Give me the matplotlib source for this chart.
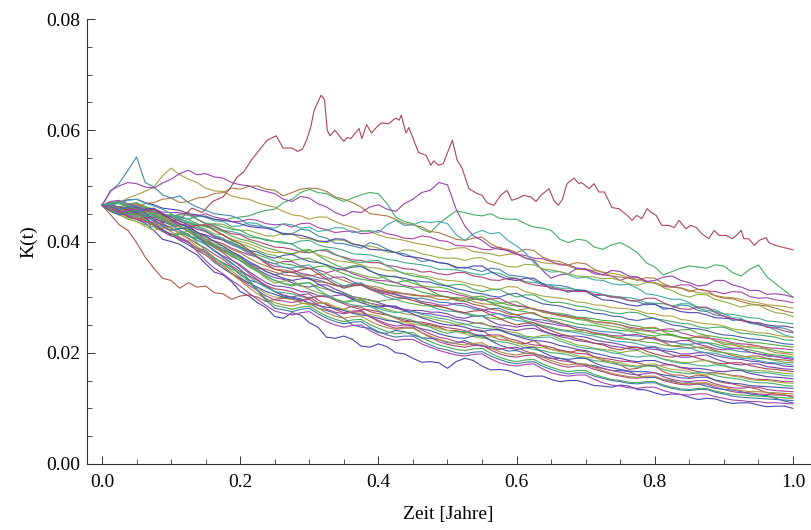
#!/usr/bin/env python3
"""
Simulated short-rate paths K(t) over one year (Mathematica-style line plot)
"""

import colorsys

import matplotlib
matplotlib.use("Agg")
import matplotlib.pyplot as plt
import numpy as np
from matplotlib.ticker import FormatStrFormatter, MultipleLocator

# Paths sampled on an even grid from t=0 to t=1 (years); K(t) in units of 1e-4
UNIT = 1e-4

# outlier paths
k_blue_low = "465 463 455 444 440 433 420 404 400 395 385 376 360 345 340 328 310 302 290 281 265 262 272 268 254 246 228 226 230 224 212 210 216 211 200 198 190 183 184 182 172 184 190 186 176 169 170 168 162 157 158 158 152 148 150 150 146 141 140 138 142 140 134 133 128 124 126 125 120 116 118 117 112 109 110 110 106 103 104 104 100"
k_blue_low2 = "465 466 460 451 448 442 430 419 414 408 398 388 384 370 362 354 340 331 326 320 310 302 300 297 288 280 276 271 262 250 246 244 236 235 240 238 232 227 226 224 218 217 222 216 212 211 208 203 204 199 198 195 190 190 186 181 178 177 172 168 168 166 160 155 156 152 150 145 146 144 140 136 134 133 130 126 124 123 118 113 110"
k_teal_mid = "465 458 460 451 452 459 456 448 446 445 440 446 444 437 436 427 428 434 432 425 424 432 430 424 426 418 420 425 424 416 418 420 416 430 438 429 430 436 434 436 432 412 402 414 420 414 416 402 392 380 362 350 345 346 340 334 336 331 330 324 322 323 316 306 304 300 296 296 290 282 280 277 270 263 262 253 250 248 240 232 228"
k_teal_early = "465 490 505 528 552 506 498 484 478 482 470 462 456 450 448 446 440 430 428 426 420 412 414 422 420 410 406 397 396 392 388 398 394 386 380 378 372 364 366 362 360 352 354 350 346 352 350 340 338 336 330 322 322 321 318 312 310 302 304 300 298 294 292 286 288 278 280 286 284 276 274 268 266 258 260 254 252 246 246 244 238"
k_purple_high = "465 492 500 506 504 498 496 505 512 522 528 520 522 516 514 506 502 500 494 490 486 476 472 481 478 468 462 452 446 454 452 462 466 458 454 468 476 488 492 506 502 458 428 410 402 390 386 384 378 370 366 348 334 340 342 352 350 342 340 348 346 338 336 328 330 336 338 330 326 320 322 330 330 322 318 312 312 305 306 304 300"
k_green_high = "465 463 458 452 450 455 456 449 446 444 440 445 446 440 438 442 444 446 452 456 458 470 476 488 494 488 486 478 472 478 484 488 486 468 444 436 432 422 416 432 444 455 452 448 446 450 442 440 440 432 426 424 420 404 398 404 402 390 386 394 398 390 380 362 354 340 346 352 356 354 352 358 356 344 338 350 358 336 324 312 300"
k_orange_high = "465 464 458 457 462 468 470 476 478 470 472 478 480 486 488 496 494 499 500 494 492 482 488 494 496 495 490 480 476 470 462 450 448 446 440 432 430 426 418 416 410 404 402 406 408 396 388 386 380 386 384 372 366 364 358 362 360 350 344 338 336 334 330 335 334 324 318 316 310 314 312 302 298 297 292 288 286 284 280 275 272"
k_red_dip = "465 448 430 420 398 372 352 334 330 316 326 318 320 308 306 296 302 304 300 292 296 298 296 292 300 290 288 280 278 284 282 274 270 268 262 256 256 252 250 246 240 240 236 242 240 230 224 222 218 216 222 212 206 204 200 204 202 192 186 184 178 170 172 178 176 166 160 160 156 160 158 150 146 144 140 138 134 128 126 124 120"

# the top red path, read point by point
red_t = [0.0, 0.0125, 0.025, 0.04, 0.055, 0.07, 0.085, 0.1, 0.115, 0.13, 0.145, 0.16, 0.175, 0.185, 0.195,
         0.205, 0.216, 0.228, 0.239, 0.252, 0.258, 0.262, 0.275, 0.283, 0.29, 0.296, 0.302, 0.307, 0.317, 0.322,
         0.326, 0.33, 0.337, 0.35, 0.355, 0.36, 0.372, 0.376, 0.383, 0.39, 0.397, 0.404, 0.415, 0.425, 0.43,
         0.433, 0.44, 0.444, 0.45, 0.458, 0.469, 0.476, 0.48, 0.487, 0.494, 0.5, 0.507, 0.514, 0.521, 0.531,
         0.543, 0.55, 0.557, 0.567, 0.577, 0.586, 0.593, 0.603, 0.61, 0.621, 0.628, 0.635, 0.647, 0.654, 0.66,
         0.666, 0.673, 0.683, 0.69, 0.694, 0.705, 0.712, 0.719, 0.727, 0.738, 0.748, 0.76, 0.767, 0.774, 0.781,
         0.789, 0.795, 0.802, 0.81, 0.82, 0.828, 0.835, 0.845, 0.852, 0.86, 0.868, 0.878, 0.886, 0.893, 0.903,
         0.912, 0.918, 0.925, 0.929, 0.936, 0.944, 0.951, 0.961, 0.965, 0.975, 0.984, 1.0]
red_k = [465, 455, 448, 460, 445, 430, 445, 435, 442, 460, 452, 472, 480, 495, 515,
         525, 546, 565, 582, 590, 577, 568, 568, 562, 566, 582, 605, 636, 663, 655,
         600, 590, 600, 580, 587, 585, 603, 585, 610, 595, 605, 613, 612, 622, 618,
         627, 595, 605, 586, 560, 555, 537, 545, 537, 540, 560, 582, 546, 532, 495,
         486, 483, 470, 465, 483, 492, 474, 478, 483, 480, 472, 483, 495, 474, 465,
         475, 504, 514, 504, 506, 495, 504, 489, 489, 461, 459, 447, 438, 447, 441,
         459, 452, 447, 429, 429, 425, 438, 423, 429, 425, 414, 405, 420, 411, 411,
         405, 411, 420, 405, 405, 393, 402, 407, 398, 393, 390, 385]

# bulk of the paths
k_b01 = "465 470 471 464 462 457 458 453 452 452 447 446 450 444 441 436 436 440 438 432 430 431 426 432 433 425 421 416 418 419 414 415 420 414 411 406 405 410 408 402 400 393 392 391 386 385 390 383 377 375 370 369 364 358 358 352 351 345 340 338 330 336 336 329 325 319 318 322 322 314 311 310 306 310 309 301 298 299 295 293 290"
k_b02 = "465 466 470 478 484 490 498 518 532 520 512 506 496 491 490 482 478 476 470 465 462 454 448 446 440 444 444 436 430 426 420 418 412 407 405 402 398 395 392 389 385 388 389 382 380 378 374 377 378 371 367 362 360 360 356 350 349 348 345 343 340 335 332 327 326 321 319 317 312 308 307 303 300 299 296 292 290 286 285 283 280"
k_b03 = "465 461 455 448 448 454 452 445 440 440 434 429 428 432 431 424 420 420 415 410 410 415 414 406 405 400 398 403 402 395 392 392 388 381 380 385 384 378 375 371 370 370 366 370 371 364 360 355 354 359 358 351 349 346 342 338 337 336 333 334 330 324 321 326 326 317 312 304 300 305 304 296 292 287 282 286 286 278 272 270 265"
k_b04 = "465 466 461 455 452 446 444 448 447 440 436 430 428 426 420 418 414 408 406 404 400 397 396 401 402 394 390 388 384 378 377 376 372 368 366 362 360 358 355 350 350 349 346 342 340 344 343 336 334 328 326 325 320 316 316 313 311 309 305 302 300 299 296 290 289 288 284 288 288 280 276 274 270 269 266 263 262 257 256 254 252"
k_b05 = "465 466 470 475 476 470 466 460 458 456 450 448 444 440 438 436 432 427 425 424 420 414 413 411 407 401 400 405 404 396 393 386 385 384 380 374 372 370 366 362 360 354 352 356 356 346 338 332 330 334 334 324 315 314 309 313 312 302 295 294 290 286 284 288 287 281 279 274 272 272 268 263 262 261 258 254 254 250 248 248 245"
k_b06 = "465 460 458 463 466 456 450 446 444 449 452 440 432 428 420 414 412 404 400 395 390 389 386 381 380 384 383 376 372 367 366 362 362 357 355 351 350 345 346 342 340 344 344 338 336 331 330 334 333 326 322 320 318 313 312 310 310 305 304 300 300 294 293 298 298 290 284 279 278 282 282 272 266 261 258 256 252 246 244 239 236"
k_b07 = "465 464 460 465 466 458 452 446 444 436 432 428 422 414 412 404 400 396 390 383 380 380 376 382 384 376 372 366 364 362 358 353 352 348 347 343 342 338 336 332 330 329 326 322 320 315 314 319 318 310 306 302 300 298 296 291 290 286 285 281 280 279 276 271 270 266 266 260 258 254 252 251 248 243 241 238 236 235 232 229 228"
k_b08 = "465 470 472 466 461 461 458 450 444 448 448 440 433 431 426 422 420 412 407 402 400 399 395 386 380 384 386 377 370 364 362 365 366 356 349 342 338 336 332 325 320 323 322 314 310 313 314 306 300 304 304 296 290 291 288 284 282 278 276 272 270 273 272 266 261 259 256 253 252 247 244 246 246 240 235 234 232 230 228 223 222"
k_b09 = "465 461 456 449 445 449 450 440 432 427 420 415 412 406 403 398 390 384 381 374 370 375 377 370 364 362 358 352 350 354 355 347 341 338 336 334 330 328 327 322 320 315 312 308 306 302 300 305 307 299 294 288 286 284 280 276 276 271 270 266 265 260 258 261 262 256 250 248 244 243 240 235 232 231 228 225 224 222 219 216 215"
k_b10 = "465 464 461 467 470 463 458 450 446 444 440 432 426 423 418 410 404 401 395 389 385 380 378 383 386 375 366 358 352 356 358 348 340 332 326 329 330 320 312 304 300 299 296 300 302 296 291 286 284 282 279 274 272 271 268 264 263 261 258 257 255 250 248 244 244 240 238 241 242 235 231 229 226 225 222 218 218 216 214 212 210"
k_b11 = "465 460 452 446 444 436 430 434 437 428 420 411 404 401 396 388 382 376 372 365 360 364 364 356 352 349 344 348 350 342 337 332 330 329 326 321 318 318 314 311 310 305 302 297 294 297 298 290 285 283 278 276 272 268 266 262 261 256 254 253 250 246 244 240 239 242 243 236 232 228 226 225 222 218 216 215 212 209 208 207 205"
k_b12 = "465 468 468 461 455 452 447 441 438 431 426 429 430 420 412 402 396 391 384 378 375 369 366 369 370 363 358 352 348 345 340 336 334 337 338 330 325 320 318 318 315 309 305 300 296 291 288 291 292 284 278 273 270 268 264 260 258 253 250 248 245 241 240 239 236 232 231 227 226 228 228 222 218 216 213 209 208 207 204 201 200"
k_b13 = "465 456 450 448 443 437 434 426 420 424 425 415 408 400 396 386 380 370 362 356 350 349 346 340 338 341 342 335 330 324 322 320 318 312 310 306 303 302 300 296 295 298 299 292 288 287 284 278 276 279 280 273 270 266 264 263 260 256 255 253 250 244 242 245 246 238 232 228 226 230 230 221 215 214 210 212 212 205 200 199 196"
k_b14 = "465 465 462 457 455 447 442 446 448 438 430 425 418 410 404 399 392 383 376 371 365 360 358 353 351 355 356 348 342 336 332 330 326 322 320 319 315 309 306 302 300 294 292 296 298 290 284 281 276 274 270 264 262 260 256 252 250 249 246 242 240 239 236 232 230 233 233 228 224 220 218 216 212 208 207 205 202 198 196 195 192"
k_b15 = "465 463 458 451 447 444 438 430 424 416 410 406 400 392 388 378 370 361 355 346 340 344 345 338 334 331 326 321 318 321 322 315 310 308 304 300 298 298 295 291 290 286 284 279 276 279 280 273 268 263 260 259 256 252 250 246 244 240 238 237 235 231 230 229 226 222 220 216 215 217 218 212 208 205 202 201 198 194 193 192 190"
k_b16 = "465 472 474 468 463 457 452 450 444 436 430 422 418 408 402 394 388 381 372 362 355 354 350 343 340 335 332 336 336 328 322 315 312 308 306 301 298 292 290 286 285 289 288 282 278 273 270 266 264 262 258 254 252 249 247 242 240 236 234 231 230 232 233 227 224 220 219 222 222 215 212 207 205 208 208 201 198 196 193 190 188"
k_b17 = "465 462 455 459 460 452 447 437 430 426 418 408 400 393 384 373 366 358 352 350 345 340 338 337 332 328 326 321 320 323 324 318 314 310 308 306 305 302 302 302 300 296 293 287 284 278 276 270 268 271 272 264 258 254 248 242 240 235 232 228 225 224 222 226 228 219 212 211 208 210 210 204 200 195 192 194 194 190 188 187 185"
k_b18 = "465 455 448 440 436 430 426 418 412 416 418 407 398 390 382 374 366 354 346 336 330 325 322 325 326 318 314 309 306 300 298 294 292 295 296 291 288 285 284 283 280 275 272 268 266 262 260 263 264 258 254 249 246 242 240 239 236 233 232 229 228 224 222 219 218 214 212 214 214 209 206 202 200 198 195 191 190 189 186 183 182"
k_b19 = "465 466 469 474 476 469 464 458 450 441 434 428 420 411 406 395 388 378 372 364 360 354 352 356 358 346 336 327 320 324 326 316 308 300 296 298 298 290 284 278 275 274 270 266 266 269 270 263 258 256 250 248 244 240 238 236 232 230 226 222 220 219 216 212 211 207 206 208 209 203 200 199 195 192 190 189 186 183 182 180 178"
k_b20 = "465 456 452 457 458 447 436 430 426 430 430 416 404 392 384 380 372 360 350 341 335 332 326 320 318 322 322 314 308 301 298 295 290 285 282 278 276 276 273 273 270 264 262 266 266 257 250 249 246 249 250 240 234 231 230 230 228 223 220 218 215 211 210 207 206 204 202 198 198 200 200 195 192 189 188 185 184 181 180 176 175"
k_b21 = "465 461 456 461 462 450 440 436 430 420 412 402 396 384 374 367 358 346 336 326 320 319 316 310 309 303 300 303 304 298 294 289 286 284 280 276 274 271 270 267 265 260 258 254 252 248 246 242 240 243 244 238 234 229 226 222 220 217 216 212 210 207 206 209 210 202 196 192 192 195 196 189 184 180 178 180 180 175 173 171 170"
k_b22 = "465 464 460 454 452 456 458 448 440 432 426 429 430 420 412 403 396 385 372 360 350 346 344 349 352 342 332 323 316 320 322 314 308 305 300 298 294 289 286 284 280 275 272 275 276 268 262 255 250 253 254 246 240 234 230 225 222 217 214 208 205 209 210 203 198 194 192 195 195 190 186 182 180 182 182 177 174 171 170 168 166"
k_b23 = "465 460 452 448 446 450 452 443 434 426 420 411 404 396 392 380 370 357 346 334 325 329 330 321 314 308 304 297 292 295 296 289 284 278 274 270 268 265 262 258 255 251 250 253 254 247 242 238 236 230 228 231 232 225 220 214 212 208 206 204 200 203 204 198 194 189 186 183 182 185 186 180 176 172 170 168 168 167 165 163 162"
k_b24 = "465 463 458 449 444 448 450 440 430 419 410 403 394 384 372 360 350 337 326 317 310 308 306 301 298 302 304 296 290 286 284 283 280 275 272 274 274 269 266 262 260 255 252 247 244 243 240 235 232 228 226 228 228 221 216 211 208 207 204 200 198 194 192 194 194 188 184 181 180 177 176 178 178 173 170 166 164 164 162 159 158"
k_b25 = "465 465 462 457 454 458 460 449 440 432 426 417 410 400 392 382 374 364 356 346 340 334 330 333 334 324 316 309 304 296 290 285 282 284 284 276 270 263 258 253 250 249 246 241 238 241 242 235 230 225 222 221 218 213 210 206 204 199 196 192 190 186 184 186 186 181 178 174 172 172 170 167 166 168 168 163 160 157 156 155 153"
k_b26 = "465 458 453 445 440 443 444 433 424 414 406 396 388 377 368 356 346 339 330 321 315 313 310 303 298 301 302 294 288 282 278 277 274 268 264 259 256 255 252 248 245 243 240 234 230 232 232 226 222 217 214 213 210 205 202 199 198 193 190 188 185 184 182 178 176 178 178 173 170 166 164 164 162 159 158 154 152 152 150 148 148"
k_b27 = "465 458 450 442 436 427 420 424 426 414 404 391 380 371 360 347 336 325 316 306 300 299 296 290 286 289 290 283 278 273 270 269 266 260 256 255 252 249 248 243 240 238 234 229 226 229 230 223 218 213 210 209 206 202 200 195 192 191 188 184 182 178 176 179 180 174 170 169 166 162 160 162 162 158 156 152 150 150 148 146 145"
k_b28 = "465 469 470 463 458 450 446 439 430 428 422 412 404 394 388 376 366 356 348 338 330 324 320 324 326 314 304 296 290 293 294 284 276 269 264 262 258 251 246 239 235 238 238 232 228 223 220 218 214 209 206 204 200 199 196 192 190 186 184 181 178 176 174 176 176 170 166 164 162 164 164 159 156 154 152 148 146 146 144 141 140"
k_b29 = "465 454 448 452 452 441 432 422 412 402 394 384 376 363 352 342 334 325 318 310 305 300 298 295 290 285 282 280 276 271 268 266 262 258 256 251 248 243 240 234 230 227 226 230 232 222 214 209 206 209 210 201 194 190 188 190 190 182 176 173 170 167 166 166 164 160 158 155 154 156 156 151 148 145 144 141 140 139 138 137 136"
k_b30 = "465 462 456 447 440 436 430 420 412 404 398 388 380 367 356 343 332 321 312 302 295 293 290 294 296 286 278 273 270 273 274 265 258 252 248 250 250 241 234 228 225 220 218 214 212 208 206 209 210 203 198 192 190 186 184 180 178 174 172 168 165 162 160 163 164 157 152 149 148 150 150 144 140 137 136 138 138 134 132 131 130"
k_b31 = "465 464 460 453 448 439 432 426 418 408 400 387 376 365 356 342 330 317 306 297 290 286 284 288 290 280 272 266 262 265 266 257 250 245 242 244 244 236 230 224 220 216 214 217 218 209 202 198 196 199 200 192 186 181 178 180 180 173 168 163 160 157 156 158 158 152 148 145 144 146 146 141 138 134 132 130 130 129 128 127 126"
k_b32 = "465 465 462 466 468 460 454 444 436 428 418 409 400 389 380 367 356 343 332 320 310 304 300 304 306 295 286 278 272 275 276 265 256 249 244 246 246 236 228 220 215 212 210 213 214 205 198 194 192 195 196 188 182 177 174 176 176 170 166 161 158 155 154 156 156 150 146 143 142 144 144 138 134 130 128 128 126 125 124 124 122"
k_b33 = "465 456 450 454 456 440 428 418 410 413 414 398 384 371 360 350 344 327 312 297 285 282 278 282 284 274 266 260 256 259 260 251 244 238 234 236 236 227 220 214 210 206 204 207 208 199 192 187 184 187 188 180 174 169 166 168 168 161 156 152 150 147 146 148 148 142 138 135 134 136 136 131 128 125 124 123 122 121 120 119 118"
k_b34 = "465 463 458 462 464 451 440 428 420 423 424 409 396 383 372 362 350 331 312 294 280 277 274 278 280 270 262 256 252 255 256 246 238 232 228 230 230 221 214 208 205 200 198 201 202 194 188 183 180 183 184 176 170 165 162 164 164 158 154 150 148 145 144 146 146 140 136 133 132 134 134 129 126 122 120 119 118 117 116 115 114"
k_b36 = "465 458 452 456 458 444 430 419 410 406 400 382 366 352 342 330 320 307 296 285 275 271 268 272 274 264 256 250 246 249 250 240 232 226 222 224 224 216 210 204 200 196 194 197 198 189 182 178 176 179 180 171 164 160 158 160 160 152 146 142 140 137 136 138 138 132 128 125 124 126 126 121 118 115 114 112 112 110 110 109 108"


def plot_colors(n: int):
    """Default Mathematica plot colour sequence (hues spaced by the golden ratio)"""
    golden = (1 + 5 ** 0.5) / 2
    cols = []
    for i in range(n):
        h = (0.67 + 2.0 * i / golden) % 1.0
        cols.append(colorsys.hsv_to_rgb(h, 0.6, 0.68))
    return cols


def as_path(values):
    """Turn a stored path into (t, K) arrays on an even grid over one year"""
    k = np.array(values.split(), dtype=float) * UNIT
    return np.linspace(0.0, 1.0, len(k)), k


def main():
    plt.rcParams['font.family'] = ['Liberation Serif', 'DejaVu Serif']

    # draw order decides the colour of each path
    order = [
        k_blue_low, k_b32, k_b02, k_green_high, k_blue_low2, k_b01, k_orange_high, k_b10,
        k_teal_early, k_purple_high, k_red_dip, k_b12, k_teal_mid, k_b20, None,
        k_b03, k_b04, k_b05, k_b06, k_b07, k_b08, k_b09, k_b11, k_b13, k_b14, k_b15,
        k_b16, k_b17, k_b18, k_b19, k_b21, k_b22, k_b23, k_b24, k_b25, k_b26, k_b27,
        k_b28, k_b29, k_b30, k_b31, k_b33, k_b34, k_b36,
    ]
    colors = plot_colors(len(order))

    fig = plt.figure(figsize=(8.11, 5.30), dpi=100)
    ax = fig.add_axes([87 / 811, 66 / 530, 723 / 811, 445 / 530])

    for values, c in zip(order, colors):
        if values is None:
            # the top red path has its own time points
            x, k = np.array(red_t), np.array(red_k) * UNIT
        else:
            x, k = as_path(values)
        ax.plot(x, k, color=c, lw=0.8, solid_joinstyle='round')

    ax.set_xlim(-0.0217, 1.0246)
    ax.set_ylim(0, 0.08)

    ax.spines['top'].set_visible(False)
    ax.spines['right'].set_visible(False)
    for s in ('left', 'bottom'):
        ax.spines[s].set_linewidth(0.8)
        ax.spines[s].set_color('#333333')

    ax.xaxis.set_major_locator(MultipleLocator(0.2))
    ax.xaxis.set_minor_locator(MultipleLocator(0.05))
    ax.yaxis.set_major_locator(MultipleLocator(0.02))
    ax.yaxis.set_minor_locator(MultipleLocator(0.005))
    ax.xaxis.set_major_formatter(FormatStrFormatter('%.1f'))
    ax.yaxis.set_major_formatter(FormatStrFormatter('%.2f'))

    ax.tick_params(which='major', direction='in', length=6, width=0.7, labelsize=14, pad=7, color='#333333')
    ax.tick_params(which='minor', direction='in', length=3.5, width=0.6, color='#333333')
    ax.tick_params(axis='y', which='major', pad=5)

    ax.set_xlabel('Zeit [Jahre]', fontsize=14, labelpad=11)
    ax.set_ylabel('K(t)', fontsize=14, labelpad=6)

    fig.savefig('out.png', dpi=100)
    plt.close(fig)


if __name__ == '__main__':
    main()
